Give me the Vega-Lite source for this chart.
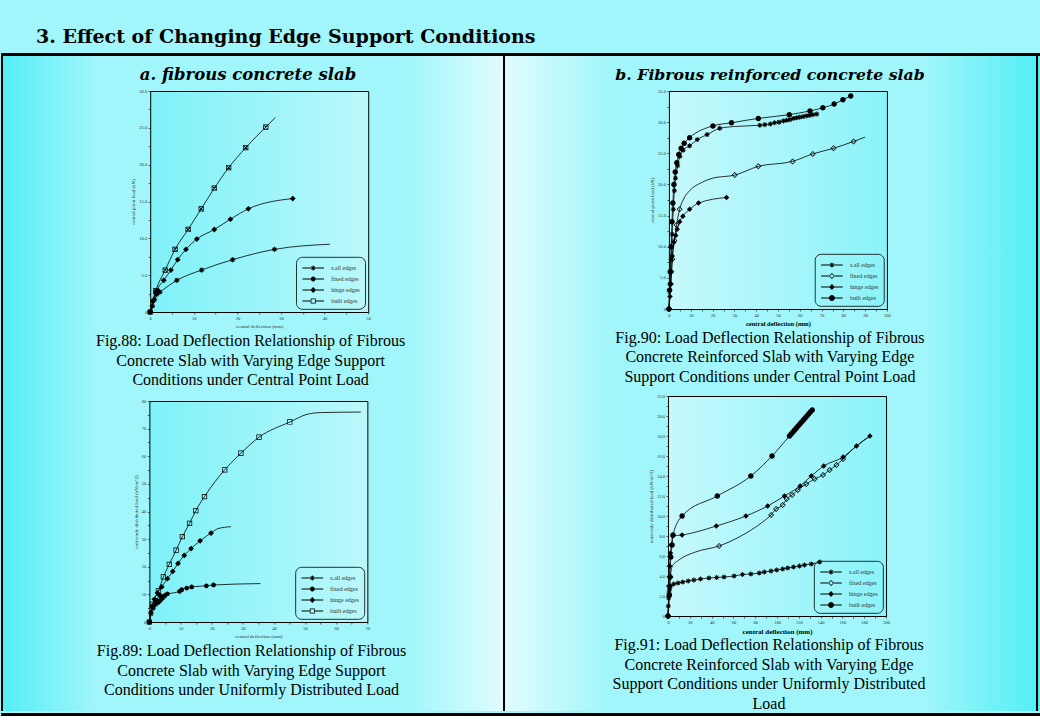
{
"$schema": "https://vega.github.io/schema/vega-lite/v6.json",
"padding": {"left": 0, "top": 27, "right": 0, "bottom": 0},
"background": "#a0f6fa",
"title": {"text": "3. Effect of Changing Edge Support Conditions", "anchor": "start", "frame": "group", "dx": 35, "font": "DejaVu Serif", "fontSize": 19, "fontWeight": "bold", "fontStyle": "normal", "color": "#000", "offset": 6, "orient": "top", "lineHeight": 20},
"config": {
  "view": {"stroke": "#000", "strokeWidth": 1},
  "axis": {"domain": false, "grid": false, "ticks": true, "tickColor": "#000", "tickSize": 2, "tickWidth": 0.6, "labelFont": "Liberation Serif", "labelFontSize": 4.5, "labelColor": "#333", "labelPadding": 1.5, "labelOverlap": false, "labelFlush": false, "titleFont": "Liberation Serif", "titleFontSize": 5, "titleFontWeight": "normal", "titleColor": "#333", "titlePadding": 3},
  "legend": {"orient": "bottom-right", "offset": 3, "strokeColor": "#000", "strokeWidth": 0.8, "cornerRadius": 6, "padding": 5, "symbolSize": 144, "symbolFillColor": "#000", "symbolStrokeWidth": 0, "symbolOpacity": 1, "labelFont": "Liberation Serif", "labelFontSize": 6, "labelColor": "#333", "labelOffset": 12, "symbolOffset": 6, "rowPadding": 2},
  "title": {"font": "Liberation Serif", "fontSize": 16, "fontWeight": "normal", "color": "#000", "lineHeight": 19.5, "orient": "bottom", "anchor": "middle", "frame": "bounds", "offset": 5}
},
"datasets": {
"f88": [
{"s":"S","x":0,"y":0,"m":1},{"s":"S","x":0.5,"y":0.8,"m":1},{"s":"S","x":1.0,"y":1.7,"m":1},{"s":"S","x":1.5,"y":2.4,"m":1},{"s":"S","x":2.2,"y":2.7,"m":1},{"s":"S","x":6.1,"y":4.3,"m":1},{"s":"S","x":11.8,"y":5.7,"m":1},{"s":"S","x":18.9,"y":7.1,"m":1},{"s":"S","x":28.5,"y":8.5,"m":1},{"s":"S","x":41.2,"y":9.2,"m":0},
{"s":"F","x":0,"y":0,"m":1},{"s":"F","x":0.6,"y":1.5,"m":1},{"s":"F","x":1.2,"y":2.6,"m":1},{"s":"F","x":1.8,"y":2.9,"m":1},
{"s":"H","x":0,"y":0,"m":1},{"s":"H","x":0.7,"y":1.5,"m":1},{"s":"H","x":1.5,"y":2.9,"m":1},{"s":"H","x":3.1,"y":4.3,"m":1},{"s":"H","x":4.75,"y":5.7,"m":1},{"s":"H","x":6.3,"y":7.1,"m":1},{"s":"H","x":8.2,"y":8.5,"m":1},{"s":"H","x":10.7,"y":9.9,"m":1},{"s":"H","x":14.7,"y":11.2,"m":1},{"s":"H","x":18.4,"y":12.6,"m":1},{"s":"H","x":22.5,"y":14.0,"m":1},{"s":"H","x":32.7,"y":15.4,"m":1},
{"s":"B","x":0,"y":0,"m":1},{"s":"B","x":1.3,"y":2.9,"m":1},{"s":"B","x":3.45,"y":5.7,"m":1},{"s":"B","x":5.7,"y":8.5,"m":1},{"s":"B","x":8.7,"y":11.2,"m":1},{"s":"B","x":11.7,"y":14.0,"m":1},{"s":"B","x":14.7,"y":16.8,"m":1},{"s":"B","x":18.0,"y":19.6,"m":1},{"s":"B","x":21.9,"y":22.3,"m":1},{"s":"B","x":26.5,"y":25.1,"m":1},{"s":"B","x":28.7,"y":26.4,"m":0}
],
"f89": [
{"s":"B","x":0,"y":0,"m":1},{"s":"B","x":1.1,"y":6.4,"m":1},{"s":"B","x":2.9,"y":11.3,"m":1},{"s":"B","x":4.5,"y":16.3,"m":1},{"s":"B","x":6.4,"y":20.9,"m":1},{"s":"B","x":8.6,"y":26.0,"m":1},{"s":"B","x":10.6,"y":30.9,"m":1},{"s":"B","x":12.9,"y":35.7,"m":1},{"s":"B","x":14.9,"y":40.3,"m":1},{"s":"B","x":17.7,"y":45.4,"m":1},{"s":"B","x":24.2,"y":55.1,"m":1},{"s":"B","x":29.4,"y":61.1,"m":1},{"s":"B","x":35.2,"y":66.9,"m":1},{"s":"B","x":45.1,"y":72.4,"m":1},{"s":"B","x":50.7,"y":75.2,"m":0},{"s":"B","x":55.0,"y":75.8,"m":0},{"s":"B","x":67.9,"y":76.0,"m":0},
{"s":"H","x":0,"y":0,"m":1},{"s":"H","x":0.8,"y":5.5,"m":1},{"s":"H","x":1.6,"y":8.2,"m":1},{"s":"H","x":2.6,"y":10.5,"m":1},{"s":"H","x":3.97,"y":12.7,"m":1},{"s":"H","x":5.8,"y":15.7,"m":1},{"s":"H","x":7.5,"y":18.3,"m":1},{"s":"H","x":9.2,"y":21.2,"m":1},{"s":"H","x":11.2,"y":24.1,"m":1},{"s":"H","x":13.4,"y":26.6,"m":1},{"s":"H","x":16.3,"y":29.4,"m":1},{"s":"H","x":19.8,"y":32.2,"m":1},{"s":"H","x":22.0,"y":33.8,"m":0},{"s":"H","x":26.2,"y":34.5,"m":0},
{"s":"F","x":0,"y":0,"m":1},{"s":"F","x":0.5,"y":3.5,"m":1},{"s":"F","x":1.2,"y":5.8,"m":1},{"s":"F","x":2.2,"y":7.8,"m":1},{"s":"F","x":3.4,"y":9.6,"m":1},{"s":"F","x":5.8,"y":10.2,"m":1},{"s":"F","x":9.7,"y":11.1,"m":1},{"s":"F","x":10.4,"y":11.7,"m":1},{"s":"F","x":12.0,"y":12.3,"m":1},{"s":"F","x":13.6,"y":12.7,"m":1},{"s":"F","x":18.3,"y":13.1,"m":1},{"s":"F","x":20.6,"y":13.4,"m":1},{"s":"F","x":35.7,"y":13.9,"m":0},
{"s":"S","x":0,"y":0,"m":1},{"s":"S","x":0.5,"y":3.0,"m":1},{"s":"S","x":1.2,"y":5.0,"m":1},{"s":"S","x":2.0,"y":6.3,"m":1},{"s":"S","x":2.8,"y":7.0,"m":1},{"s":"S","x":3.3,"y":7.6,"m":1},{"s":"S","x":3.8,"y":8.2,"m":1},{"s":"S","x":4.2,"y":8.7,"m":1},{"s":"S","x":4.6,"y":9.2,"m":1},{"s":"S","x":5.0,"y":9.6,"m":1}
],
"f90": [
{"s":"S","x":0,"y":0,"m":1},{"s":"S","x":0.5,"y":4,"m":1},{"s":"S","x":1,"y":8,"m":1},{"s":"S","x":1.5,"y":12,"m":1},{"s":"S","x":2,"y":16,"m":1},{"s":"S","x":2.5,"y":19,"m":1},{"s":"S","x":3,"y":21,"m":1},{"s":"S","x":4,"y":23,"m":1},{"s":"S","x":5,"y":24.5,"m":1},{"s":"S","x":6.5,"y":25.5,"m":1},{"s":"S","x":9.5,"y":26.2,"m":1},{"s":"S","x":13,"y":27.2,"m":1},{"s":"S","x":17.5,"y":28,"m":1},{"s":"S","x":23.3,"y":29,"m":1},{"s":"S","x":30,"y":29.3,"m":0},{"s":"S","x":41.7,"y":29.5,"m":1},{"s":"S","x":44,"y":29.6,"m":1},{"s":"S","x":46.5,"y":29.7,"m":1},{"s":"S","x":48.5,"y":29.9,"m":1},{"s":"S","x":50.5,"y":30,"m":1},{"s":"S","x":52.5,"y":30.2,"m":1},{"s":"S","x":54,"y":30.3,"m":1},{"s":"S","x":55.5,"y":30.4,"m":1},{"s":"S","x":57,"y":30.6,"m":1},{"s":"S","x":58.5,"y":30.7,"m":1},{"s":"S","x":60,"y":30.8,"m":1},{"s":"S","x":61.5,"y":30.9,"m":1},{"s":"S","x":63,"y":31.0,"m":1},{"s":"S","x":64.5,"y":31.1,"m":1},{"s":"S","x":66,"y":31.2,"m":1},{"s":"S","x":67.8,"y":31.3,"m":1},
{"s":"F","x":0,"y":0,"m":1},{"s":"F","x":0.8,"y":4,"m":1},{"s":"F","x":1.6,"y":8,"m":1},{"s":"F","x":2.5,"y":11,"m":1},{"s":"F","x":3.5,"y":13.5,"m":1},{"s":"F","x":4.9,"y":16,"m":1},{"s":"F","x":6.5,"y":17.5,"m":0},{"s":"F","x":9.5,"y":19,"m":0},{"s":"F","x":15,"y":20.3,"m":0},{"s":"F","x":20,"y":21,"m":0},{"s":"F","x":30.2,"y":21.5,"m":1},{"s":"F","x":41,"y":22.9,"m":1},{"s":"F","x":56.7,"y":23.7,"m":1},{"s":"F","x":66,"y":24.9,"m":1},{"s":"F","x":75.5,"y":25.8,"m":1},{"s":"F","x":84.7,"y":26.9,"m":1},{"s":"F","x":90,"y":27.6,"m":0},
{"s":"H","x":0,"y":0,"m":1},{"s":"H","x":0.5,"y":2,"m":1},{"s":"H","x":0.9,"y":4,"m":1},{"s":"H","x":1.2,"y":6,"m":1},{"s":"H","x":1.5,"y":8.5,"m":1},{"s":"H","x":2.3,"y":10.7,"m":1},{"s":"H","x":3.1,"y":11.8,"m":1},{"s":"H","x":3.8,"y":12.8,"m":1},{"s":"H","x":4.9,"y":14,"m":1},{"s":"H","x":6.4,"y":14.9,"m":1},{"s":"H","x":9.5,"y":16,"m":1},{"s":"H","x":13.6,"y":17,"m":1},{"s":"H","x":26.4,"y":17.9,"m":1},
{"s":"B","x":0,"y":0,"m":1},{"s":"B","x":0.3,"y":3,"m":1},{"s":"B","x":0.6,"y":6,"m":1},{"s":"B","x":1,"y":10,"m":1},{"s":"B","x":1.4,"y":14,"m":1},{"s":"B","x":1.8,"y":17,"m":1},{"s":"B","x":2.3,"y":20,"m":1},{"s":"B","x":2.9,"y":22,"m":1},{"s":"B","x":3.6,"y":23.5,"m":1},{"s":"B","x":4.5,"y":24.8,"m":1},{"s":"B","x":5.6,"y":25.8,"m":1},{"s":"B","x":7,"y":26.6,"m":1},{"s":"B","x":9.5,"y":27.5,"m":1},{"s":"B","x":20.2,"y":29.4,"m":1},{"s":"B","x":28.7,"y":29.9,"m":1},{"s":"B","x":41,"y":30.6,"m":1},{"s":"B","x":55.2,"y":31.2,"m":1},{"s":"B","x":64.7,"y":31.8,"m":1},{"s":"B","x":70.6,"y":32.3,"m":1},{"s":"B","x":75.8,"y":32.9,"m":1},{"s":"B","x":79.8,"y":33.6,"m":1},{"s":"B","x":83.4,"y":34.2,"m":1}
],
"f91": [
{"s":"B","x":0,"y":0,"m":1},{"s":"B","x":1.2,"y":2.1,"m":1},{"s":"B","x":1.8,"y":3.9,"m":1},{"s":"B","x":2.5,"y":5.9,"m":1},{"s":"B","x":3.7,"y":7.1,"m":1},{"s":"B","x":4.6,"y":8.1,"m":1},{"s":"B","x":12.9,"y":10,"m":1},{"s":"B","x":45.2,"y":12,"m":1},{"s":"B","x":76,"y":14,"m":1},{"s":"B","x":95.4,"y":16,"m":1},{"s":"B","x":111.4,"y":18,"m":1},{"s":"B","x":113,"y":18.2,"m":1},{"s":"B","x":114.6,"y":18.4,"m":1},{"s":"B","x":116.2,"y":18.6,"m":1},{"s":"B","x":117.8,"y":18.8,"m":1},{"s":"B","x":119.4,"y":19.0,"m":1},{"s":"B","x":121,"y":19.2,"m":1},{"s":"B","x":122.6,"y":19.4,"m":1},{"s":"B","x":124.2,"y":19.6,"m":1},{"s":"B","x":125.8,"y":19.8,"m":1},{"s":"B","x":127.4,"y":20.0,"m":1},{"s":"B","x":129,"y":20.2,"m":1},{"s":"B","x":130.6,"y":20.4,"m":1},{"s":"B","x":132.3,"y":20.6,"m":1},
{"s":"H","x":0,"y":0,"m":1},{"s":"H","x":0.8,"y":3,"m":1},{"s":"H","x":1.5,"y":5,"m":1},{"s":"H","x":2.2,"y":6.3,"m":1},{"s":"H","x":3.1,"y":7.1,"m":1},{"s":"H","x":4.3,"y":8.0,"m":1},{"s":"H","x":12.9,"y":8.1,"m":1},{"s":"H","x":44.3,"y":9.0,"m":1},{"s":"H","x":71.4,"y":10.0,"m":1},{"s":"H","x":91.4,"y":11.0,"m":1},{"s":"H","x":106.8,"y":12.0,"m":1},{"s":"H","x":121.2,"y":13.0,"m":1},{"s":"H","x":131.4,"y":14.0,"m":1},{"s":"H","x":142.8,"y":15.0,"m":1},{"s":"H","x":160.6,"y":15.9,"m":1},{"s":"H","x":172.9,"y":17.0,"m":1},{"s":"H","x":185.2,"y":18.0,"m":1},
{"s":"F","x":0,"y":0,"m":1},{"s":"F","x":1,"y":2,"m":1},{"s":"F","x":2.2,"y":3.9,"m":1},{"s":"F","x":4,"y":5.0,"m":0},{"s":"F","x":10,"y":5.6,"m":0},{"s":"F","x":25.2,"y":6.4,"m":0},{"s":"F","x":46.8,"y":7.0,"m":1},{"s":"F","x":65.2,"y":7.9,"m":0},{"s":"F","x":86.8,"y":9.4,"m":0},{"s":"F","x":94.5,"y":10.1,"m":1},{"s":"F","x":99.1,"y":10.7,"m":1},{"s":"F","x":105.2,"y":11.1,"m":1},{"s":"F","x":108.9,"y":11.7,"m":1},{"s":"F","x":113.8,"y":12.1,"m":1},{"s":"F","x":119.1,"y":12.6,"m":1},{"s":"F","x":126.8,"y":13.2,"m":1},{"s":"F","x":134.5,"y":13.7,"m":1},{"s":"F","x":142.2,"y":14.1,"m":1},{"s":"F","x":148.3,"y":14.6,"m":1},{"s":"F","x":154.5,"y":15.1,"m":1},{"s":"F","x":160.6,"y":15.7,"m":1},{"s":"F","x":166.8,"y":16.4,"m":0},{"s":"F","x":172.9,"y":17.0,"m":0},{"s":"F","x":185.2,"y":18.0,"m":0},
{"s":"S","x":0,"y":0,"m":1},{"s":"S","x":0.3,"y":1.0,"m":1},{"s":"S","x":0.6,"y":1.8,"m":1},{"s":"S","x":0.9,"y":2.3,"m":1},{"s":"S","x":1.2,"y":2.6,"m":1},{"s":"S","x":1.6,"y":2.8,"m":1},{"s":"S","x":2.2,"y":3.0,"m":1},{"s":"S","x":5.2,"y":3.2,"m":1},{"s":"S","x":9.2,"y":3.3,"m":1},{"s":"S","x":13.5,"y":3.4,"m":1},{"s":"S","x":18.5,"y":3.5,"m":1},{"s":"S","x":23.7,"y":3.6,"m":1},{"s":"S","x":29.8,"y":3.7,"m":1},{"s":"S","x":37.5,"y":3.8,"m":1},{"s":"S","x":44.6,"y":3.85,"m":1},{"s":"S","x":51.4,"y":3.9,"m":1},{"s":"S","x":60.6,"y":4.0,"m":1},{"s":"S","x":68.3,"y":4.15,"m":1},{"s":"S","x":76,"y":4.2,"m":1},{"s":"S","x":83.7,"y":4.3,"m":1},{"s":"S","x":88.3,"y":4.4,"m":1},{"s":"S","x":94.5,"y":4.5,"m":1},{"s":"S","x":99.7,"y":4.6,"m":1},{"s":"S","x":105.2,"y":4.7,"m":1},{"s":"S","x":109.8,"y":4.8,"m":1},{"s":"S","x":115.1,"y":4.9,"m":1},{"s":"S","x":120.6,"y":5.0,"m":1},{"s":"S","x":125.2,"y":5.1,"m":1},{"s":"S","x":131.4,"y":5.2,"m":1},{"s":"S","x":139.1,"y":5.4,"m":1}
]
},
"spacing": 0,
"vconcat": [
{"width": 1040, "height": 2, "data": {"values": []}, "mark": "point", "encoding": {}, "view": {"fill": "#000", "stroke": "#000"}},
{"spacing": 0, "hconcat": [
  {"spacing": 0, "hconcat": [
    {"width": 94, "height": 655, "data": {"values": []}, "mark": "point", "encoding": {}, "view": {"stroke": null, "fill": {"gradient": "linear", "x1": 0, "y1": 0, "x2": 1, "y2": 0, "stops": [{"offset": 0, "color": "#000"}, {"offset": 0.0212, "color": "#000"}, {"offset": 0.0213, "color": "#55eef6"}, {"offset": 1, "color": "#a0f6fa"}]}}},
    {"spacing": 3, "vconcat": [
     {"width": 198, "height": 28, "view": {"stroke": null, "fill": null}, "data": {"values": [{"t": "a. fibrous concrete slab"}]},
      "mark": {"type": "text", "font": "DejaVu Serif", "fontSize": 16.5, "fontStyle": "italic", "fontWeight": "bold", "color": "#000", "baseline": "middle", "align": "center", "dy": 5},
      "encoding": {"text": {"field": "t", "type": "nominal"}}},
     {"center": true, "spacing": 8, "vconcat": [
      {"width": 218, "height": 221, "data": {"name": "f88"},
       "view": {"fill": {"gradient": "linear", "x1": 0, "y1": 0, "x2": 1, "y2": 0, "stops": [{"offset": 0, "color": "#7ef2f8"}, {"offset": 1, "color": "#baf8fb"}]}, "stroke": "#000"},
       "title": {"text": ["Fig.88: Load Deflection Relationship of Fibrous", "Concrete Slab with Varying Edge Support", "Conditions under Central Point Load"]},
       "encoding": {
         "x": {"field": "x", "type": "quantitative", "scale": {"domain": [0, 50], "nice": false}, "axis": {"title": "central deflection (mm)", "values": [0,5,10,15,20,25,30,35,40,45,50], "labelExpr": "datum.value % 10 == 0 ? datum.label : ''"}},
         "y": {"field": "y", "type": "quantitative", "scale": {"domain": [0, 30], "nice": false}, "axis": {"title": "central point load (kN)", "values": [0,2.5,5,7.5,10,12.5,15,17.5,20,22.5,25,27.5,30], "labelExpr": "datum.value % 5 == 0 ? (datum.value == 0 ? '0' : format(datum.value, '.1f')) : ''"}}
       },
       "layer": [
         {"mark": {"type": "line", "interpolate": "monotone", "color": "#000", "strokeWidth": 0.8}, "encoding": {"detail": {"field": "s", "type": "nominal"}}},
         {"transform": [{"filter": "datum.m == 1"}], "mark": {"type": "point", "filled": true, "color": "#000", "opacity": 1, "size": 110}, "encoding": {"shape": {"field": "s", "type": "nominal", "legend": null, "scale": {"domain": ["S","F","H","B"], "range": [
            "M-0.5,-0.1H0.5V0.1H-0.5Z M-0.1,-0.5H0.1V0.5H-0.1Z M-0.42,-0.28L-0.28,-0.42L0.42,0.28L0.28,0.42Z M0.28,-0.42L0.42,-0.28L-0.28,0.42L-0.42,0.28Z",
            "M-0.45,0A0.45,0.45 0 1,1 0.45,0A0.45,0.45 0 1,1 -0.45,0Z",
            "M0,-0.55L0.55,0L0,0.55L-0.55,0Z",
            "M-0.5,-0.5H0.5V0.5H-0.5Z M-0.36,-0.36V0.36H0.36V-0.36Z M-0.36,-0.26L-0.26,-0.36L0.36,0.26L0.26,0.36Z M0.26,-0.36L0.36,-0.26L-0.26,0.36L-0.36,0.26Z"]}}}},
         {"transform": [{"filter": "datum.m == 9"}], "mark": {"type": "point", "filled": true, "color": "#000", "opacity": 1, "size": 144}, "encoding": {"shape": {"field": "s", "type": "nominal", "legend": {"title": null, "labelExpr": "{'S':'s.all edges','F':'fixed edges','H':'hinge edges','B':'built edges'}[datum.label]"}, "scale": {"domain": ["S","F","H","B"], "range": [
            "M-1.8,-0.08H1.8V0.08H-1.8Z M-0.08,-0.42H0.08V0.42H-0.08Z M-0.34,-0.24L-0.24,-0.34L0.34,0.24L0.24,0.34Z M0.24,-0.34L0.34,-0.24L-0.24,0.34L-0.34,0.24Z",
            "M-1.8,-0.08H1.8V0.08H-1.8Z M-0.4,0A0.4,0.4 0 1,1 0.4,0A0.4,0.4 0 1,1 -0.4,0Z",
            "M-1.8,-0.08H1.8V0.08H-1.8Z M0,-0.48L0.48,0L0,0.48L-0.48,0Z",
            "M-1.8,-0.08H-0.42V0.08H-1.8Z M0.42,-0.08H1.8V0.08H0.42Z M-0.42,-0.42H0.42V0.42H-0.42Z M-0.3,-0.3V0.3H0.3V-0.3Z"]}}}}
       ],
       "resolve": {"scale": {"shape": "independent"}}
      },
      {"width": 218, "height": 221, "data": {"name": "f89"},
       "view": {"fill": {"gradient": "linear", "x1": 0, "y1": 0, "x2": 1, "y2": 0, "stops": [{"offset": 0, "color": "#7ef2f8"}, {"offset": 1, "color": "#baf8fb"}]}, "stroke": "#000"},
       "title": {"text": ["Fig.89: Load Deflection Relationship of Fibrous", "Concrete Slab with Varying Edge Support", "Conditions under Uniformly Distributed Load"]},
       "encoding": {
         "x": {"field": "x", "type": "quantitative", "scale": {"domain": [0, 70], "nice": false}, "axis": {"title": "central deflection (mm)", "values": [0,5,10,15,20,25,30,35,40,45,50,55,60,65,70], "labelExpr": "datum.value % 10 == 0 ? datum.label : ''"}},
         "y": {"field": "y", "type": "quantitative", "scale": {"domain": [0, 80], "nice": false}, "axis": {"title": "uniformly distributed load (kN/m^2)", "values": [0,5,10,15,20,25,30,35,40,45,50,55,60,65,70,75,80], "labelExpr": "datum.value % 10 == 0 ? datum.label : ''"}}
       },
       "layer": [
         {"mark": {"type": "line", "interpolate": "monotone", "color": "#000", "strokeWidth": 0.8}, "encoding": {"detail": {"field": "s", "type": "nominal"}}},
         {"transform": [{"filter": "datum.m == 1"}], "mark": {"type": "point", "filled": true, "color": "#000", "opacity": 1, "size": 110}, "encoding": {"shape": {"field": "s", "type": "nominal", "legend": null, "scale": {"domain": ["S","F","H","B"], "range": [
            "M-0.5,-0.1H0.5V0.1H-0.5Z M-0.1,-0.5H0.1V0.5H-0.1Z M-0.42,-0.28L-0.28,-0.42L0.42,0.28L0.28,0.42Z M0.28,-0.42L0.42,-0.28L-0.28,0.42L-0.42,0.28Z",
            "M-0.45,0A0.45,0.45 0 1,1 0.45,0A0.45,0.45 0 1,1 -0.45,0Z",
            "M0,-0.55L0.55,0L0,0.55L-0.55,0Z",
            "M-0.5,-0.5H0.5V0.5H-0.5Z M-0.36,-0.36V0.36H0.36V-0.36Z"]}}}},
         {"transform": [{"filter": "datum.m == 9"}], "mark": {"type": "point", "filled": true, "color": "#000", "opacity": 1, "size": 144}, "encoding": {"shape": {"field": "s", "type": "nominal", "legend": {"title": null, "labelExpr": "{'S':'s.all edges','F':'fixed edges','H':'hinge edges','B':'built edges'}[datum.label]"}, "scale": {"domain": ["S","F","H","B"], "range": [
            "M-1.8,-0.08H1.8V0.08H-1.8Z M-0.08,-0.42H0.08V0.42H-0.08Z M-0.34,-0.24L-0.24,-0.34L0.34,0.24L0.24,0.34Z M0.24,-0.34L0.34,-0.24L-0.24,0.34L-0.34,0.24Z",
            "M-1.8,-0.08H1.8V0.08H-1.8Z M-0.4,0A0.4,0.4 0 1,1 0.4,0A0.4,0.4 0 1,1 -0.4,0Z",
            "M-1.8,-0.08H1.8V0.08H-1.8Z M0,-0.48L0.48,0L0,0.48L-0.48,0Z",
            "M-1.8,-0.08H-0.42V0.08H-1.8Z M0.42,-0.08H1.8V0.08H0.42Z M-0.42,-0.42H0.42V0.42H-0.42Z M-0.3,-0.3V0.3H0.3V-0.3Z"]}}}}
       ],
       "resolve": {"scale": {"shape": "independent"}}
      }
     ]}
    ]}
  ]},
  {"spacing": 0, "hconcat": [
    {"width": 205, "height": 655, "data": {"values": []}, "mark": "point", "encoding": {}, "view": {"stroke": null, "fill": {"gradient": "linear", "x1": 0, "y1": 0, "x2": 1, "y2": 0, "stops": [{"offset": 0, "color": "#a0f6fa"}, {"offset": 0.4682, "color": "#e0fcfe"}, {"offset": 0.4683, "color": "#000"}, {"offset": 0.4780, "color": "#000"}, {"offset": 0.4781, "color": "#e0fcfe"}, {"offset": 1, "color": "#a0f6fa"}]}}},
    {"spacing": 0, "hconcat": [
      {"spacing": 3, "vconcat": [
       {"width": 204, "height": 28, "view": {"stroke": null, "fill": null}, "data": {"values": [{"t": "b. Fibrous reinforced concrete slab"}]},
        "mark": {"type": "text", "font": "DejaVu Serif", "fontSize": 15.7, "fontStyle": "italic", "fontWeight": "bold", "color": "#000", "baseline": "middle", "align": "center", "dy": 5},
        "encoding": {"text": {"field": "t", "type": "nominal"}}},
       {"center": true, "spacing": 7, "vconcat": [
        {"width": 218, "height": 218, "data": {"name": "f90"},
         "view": {"fill": {"gradient": "linear", "x1": 0, "y1": 0, "x2": 1, "y2": 0, "stops": [{"offset": 0, "color": "#c6f9fc"}, {"offset": 1, "color": "#8af3f9"}]}, "stroke": "#000"},
         "title": {"text": ["Fig.90: Load Deflection Relationship of Fibrous", "Concrete Reinforced Slab with Varying Edge", "Support Conditions under Central Point Load"], "offset": 3},
         "encoding": {
           "x": {"field": "x", "type": "quantitative", "scale": {"domain": [0, 100], "nice": false}, "axis": {"title": "central deflection (mm)", "titleFontWeight": "bold", "titleFontSize": 6.5, "titleColor": "#000", "values": [0,5,10,15,20,25,30,35,40,45,50,55,60,65,70,75,80,85,90,95,100], "labelExpr": "datum.value % 10 == 0 ? datum.label : ''"}},
           "y": {"field": "y", "type": "quantitative", "scale": {"domain": [0, 35], "nice": false}, "axis": {"title": "central point load (kN)", "values": [0,2.5,5,7.5,10,12.5,15,17.5,20,22.5,25,27.5,30,32.5,35], "labelExpr": "datum.value % 5 == 0 ? (datum.value == 0 ? '0' : format(datum.value, '.1f')) : ''"}}
         },
         "layer": [
           {"mark": {"type": "line", "interpolate": "monotone", "color": "#000", "strokeWidth": 0.8}, "encoding": {"detail": {"field": "s", "type": "nominal"}}},
           {"transform": [{"filter": "datum.m == 1"}], "mark": {"type": "point", "filled": true, "color": "#000", "opacity": 1, "size": 100}, "encoding": {"shape": {"field": "s", "type": "nominal", "legend": null, "scale": {"domain": ["S","F","H","B"], "range": [
              "M-0.5,-0.1H0.5V0.1H-0.5Z M-0.1,-0.5H0.1V0.5H-0.1Z M-0.42,-0.28L-0.28,-0.42L0.42,0.28L0.28,0.42Z M0.28,-0.42L0.42,-0.28L-0.28,0.42L-0.42,0.28Z",
              "M0,-0.6L0.6,0L0,0.6L-0.6,0Z M0,-0.4L-0.4,0L0,0.4L0.4,0Z",
              "M0,-0.55L0.55,0L0,0.55L-0.55,0Z",
              "M-0.55,0A0.55,0.55 0 1,1 0.55,0A0.55,0.55 0 1,1 -0.55,0Z"]}}}},
           {"transform": [{"filter": "datum.m == 9"}], "mark": {"type": "point", "filled": true, "color": "#000", "opacity": 1, "size": 144}, "encoding": {"shape": {"field": "s", "type": "nominal", "legend": {"title": null, "labelExpr": "{'S':'s.all edges','F':'fixed edges','H':'hinge edges','B':'built edges'}[datum.label]"}, "scale": {"domain": ["S","F","H","B"], "range": [
              "M-1.8,-0.08H1.8V0.08H-1.8Z M-0.08,-0.42H0.08V0.42H-0.08Z M-0.34,-0.24L-0.24,-0.34L0.34,0.24L0.24,0.34Z M0.24,-0.34L0.34,-0.24L-0.24,0.34L-0.34,0.24Z",
              "M-1.8,-0.08H-0.5V0.08H-1.8Z M0.5,-0.08H1.8V0.08H0.5Z M0,-0.5L0.5,0L0,0.5L-0.5,0Z M0,-0.33L-0.33,0L0,0.33L0.33,0Z",
              "M-1.8,-0.08H1.8V0.08H-1.8Z M0,-0.48L0.48,0L0,0.48L-0.48,0Z",
              "M-1.8,-0.08H1.8V0.08H-1.8Z M-0.5,0A0.5,0.5 0 1,1 0.5,0A0.5,0.5 0 1,1 -0.5,0Z"]}}}}
         ],
         "resolve": {"scale": {"shape": "independent"}}
        },
        {"width": 218, "height": 220, "data": {"name": "f91"},
         "view": {"fill": {"gradient": "linear", "x1": 0, "y1": 0, "x2": 1, "y2": 0, "stops": [{"offset": 0, "color": "#c6f9fc"}, {"offset": 1, "color": "#8af3f9"}]}, "stroke": "#000"},
         "title": {"text": ["Fig.91: Load Deflection Relationship of Fibrous", "Concrete Reinforced Slab with Varying Edge", "Support Conditions under Uniformly Distributed", "Load"], "offset": 3},
         "encoding": {
           "x": {"field": "x", "type": "quantitative", "scale": {"domain": [0, 200], "nice": false}, "axis": {"title": "central deflection (mm)", "titleFontWeight": "bold", "titleFontSize": 7, "titleColor": "#000", "values": [0,10,20,30,40,50,60,70,80,90,100,110,120,130,140,150,160,170,180,190,200], "labelExpr": "datum.value % 20 == 0 ? datum.label : ''"}},
           "y": {"field": "y", "type": "quantitative", "scale": {"domain": [0, 22], "nice": false}, "axis": {"title": "uniformly distributed load (kN/m^2)", "values": [0,1,2,3,4,5,6,7,8,9,10,11,12,13,14,15,16,17,18,19,20,21,22], "labelExpr": "datum.value % 2 == 0 ? (datum.value == 0 ? '0' : format(datum.value, '.1f')) : ''"}}
         },
         "layer": [
           {"mark": {"type": "line", "interpolate": "monotone", "color": "#000", "strokeWidth": 0.8}, "encoding": {"detail": {"field": "s", "type": "nominal"}}},
           {"transform": [{"filter": "datum.m == 1"}], "mark": {"type": "point", "filled": true, "color": "#000", "opacity": 1, "size": 100}, "encoding": {"shape": {"field": "s", "type": "nominal", "legend": null, "scale": {"domain": ["S","F","H","B"], "range": [
              "M-0.5,-0.1H0.5V0.1H-0.5Z M-0.1,-0.5H0.1V0.5H-0.1Z M-0.42,-0.28L-0.28,-0.42L0.42,0.28L0.28,0.42Z M0.28,-0.42L0.42,-0.28L-0.28,0.42L-0.42,0.28Z",
              "M0,-0.6L0.6,0L0,0.6L-0.6,0Z M0,-0.4L-0.4,0L0,0.4L0.4,0Z",
              "M0,-0.55L0.55,0L0,0.55L-0.55,0Z",
              "M-0.55,0A0.55,0.55 0 1,1 0.55,0A0.55,0.55 0 1,1 -0.55,0Z"]}}}},
           {"transform": [{"filter": "datum.m == 9"}], "mark": {"type": "point", "filled": true, "color": "#000", "opacity": 1, "size": 144}, "encoding": {"shape": {"field": "s", "type": "nominal", "legend": {"title": null, "labelExpr": "{'S':'s.all edges','F':'fixed edges','H':'hinge edges','B':'built edges'}[datum.label]"}, "scale": {"domain": ["S","F","H","B"], "range": [
              "M-1.8,-0.08H1.8V0.08H-1.8Z M-0.08,-0.42H0.08V0.42H-0.08Z M-0.34,-0.24L-0.24,-0.34L0.34,0.24L0.24,0.34Z M0.24,-0.34L0.34,-0.24L-0.24,0.34L-0.34,0.24Z",
              "M-1.8,-0.08H-0.5V0.08H-1.8Z M0.5,-0.08H1.8V0.08H0.5Z M0,-0.5L0.5,0L0,0.5L-0.5,0Z M0,-0.33L-0.33,0L0,0.33L0.33,0Z",
              "M-1.8,-0.08H1.8V0.08H-1.8Z M0,-0.48L0.48,0L0,0.48L-0.48,0Z",
              "M-1.8,-0.08H1.8V0.08H-1.8Z M-0.5,0A0.5,0.5 0 1,1 0.5,0A0.5,0.5 0 1,1 -0.5,0Z"]}}}}
         ],
         "resolve": {"scale": {"shape": "independent"}}
        }
       ]}
      ]},
      {"width": 114, "height": 655, "data": {"values": []}, "mark": "point", "encoding": {}, "view": {"stroke": null, "fill": {"gradient": "linear", "x1": 0, "y1": 0, "x2": 1, "y2": 0, "stops": [{"offset": 0, "color": "#a0f6fa"}, {"offset": 0.9649, "color": "#55eef6"}, {"offset": 0.965, "color": "#000"}, {"offset": 0.9824, "color": "#000"}, {"offset": 0.9825, "color": "#55eef6"}, {"offset": 1, "color": "#55eef6"}]}}}
    ]}
  ]}
]},
{"width": 1040, "height": 2, "data": {"values": []}, "mark": "point", "encoding": {}, "view": {"fill": "#000", "stroke": "#000"}}
]
}
